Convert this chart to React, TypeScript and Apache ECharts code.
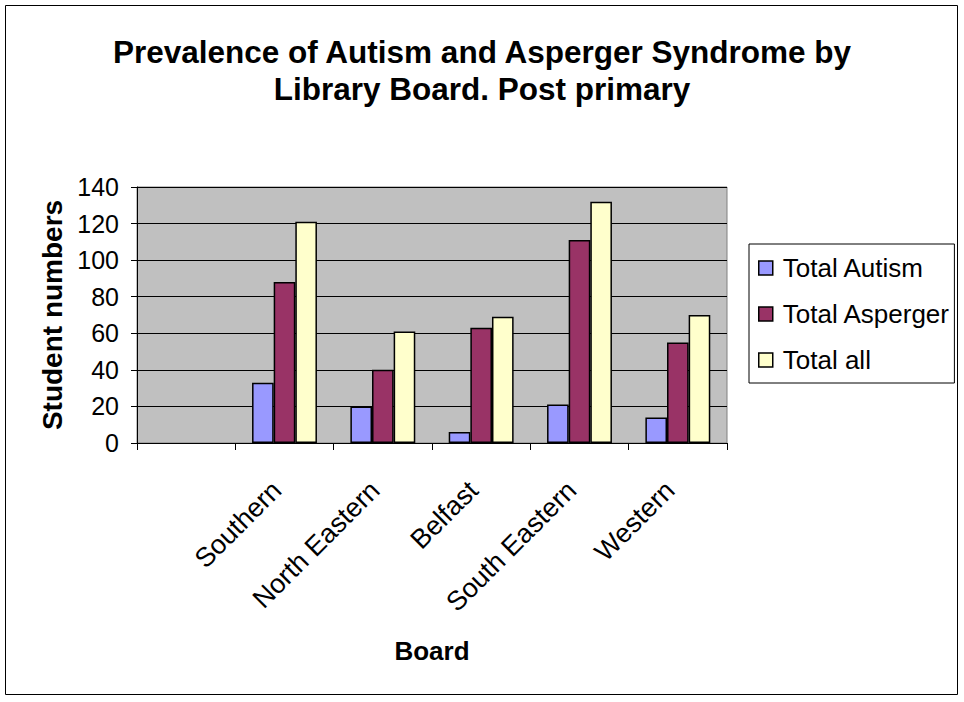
import React, { useEffect, useRef } from "react";
import * as echarts from "echarts";

const categories = ["", "Southern", "North Eastern", "Belfast", "South Eastern", "Western"];
const totalAutism = [null, 33, 20, 6, 21, 14];
const totalAsperger = [null, 88, 40, 63, 111, 55];
const totalAll = [null, 121, 61, 69, 132, 70];
const seriesNames = ["Total Autism", "Total Asperger", "Total all"];
const colors = ["#9999FF", "#993366", "#FFFFCC"];

const FONT = "'Liberation Sans', Arial, sans-serif";

export default function App() {
  const ref = useRef<HTMLDivElement>(null);
  useEffect(() => {
    document.body.style.margin = "0";
    const chart = echarts.init(ref.current!, null, { renderer: "svg" });
    const data = [totalAutism, totalAsperger, totalAll];
    chart.setOption({
      animation: false,
      backgroundColor: "#ffffff",
      textStyle: { fontFamily: FONT, color: "#000" },
      title: {
        text: "Prevalence of Autism and Asperger Syndrome by\nLibrary Board. Post primary",
        left: "center",
        top: 28,
        textStyle: { fontFamily: FONT, fontSize: 31.5, fontWeight: "bold", color: "#000", lineHeight: 37 },
      },
      graphic: [
        {
          type: "rect",
          shape: { x: 5.5, y: 5.5, width: 952, height: 689 },
          style: { fill: "none", stroke: "#000", lineWidth: 1 },
          silent: true,
        },
        {
          type: "rect",
          shape: { x: 137, y: 187, width: 590, height: 256 },
          style: { fill: "#C0C0C0", stroke: "#808080", lineWidth: 1 },
          silent: true,
          z: -10,
        },
      ],
      legend: {
        orient: "vertical",
        left: 749,
        top: 244,
        backgroundColor: "#fff",
        borderColor: "#000",
        borderWidth: 1,
        padding: [11, 4, 10, 9],
        itemWidth: 14,
        itemHeight: 14,
        itemGap: 20,
        icon: "rect",
        itemStyle: { borderColor: "#000", borderWidth: 1.5 },
        textStyle: { fontFamily: FONT, fontSize: 26, color: "#000", lineHeight: 26, padding: [0, 0, 0, 5] },
        data: seriesNames,
      },
      grid: { left: 137, top: 187, width: 590, height: 256, containLabel: false },
      xAxis: {
        type: "category",
        data: categories,
        boundaryGap: true,
        name: "Board",
        nameLocation: "middle",
        nameGap: 195,
        nameTextStyle: { fontFamily: FONT, fontSize: 26, fontWeight: "bold", color: "#000" },
        axisLine: { lineStyle: { color: "#000", width: 1 } },
        axisTick: { show: true, length: 7, alignWithLabel: false, lineStyle: { color: "#000" } },
        axisLabel: {
          rotate: 45,
          margin: 35,
          interval: 0,
          padding: [0, 11, 0, 0],
          fontFamily: FONT,
          fontSize: 27,
          color: "#000",
        },
        splitLine: { show: false },
      },
      yAxis: {
        type: "value",
        min: 0,
        max: 140,
        interval: 20,
        name: "Student numbers",
        nameLocation: "middle",
        nameGap: 70,
        nameTextStyle: { fontFamily: FONT, fontSize: 28, fontWeight: "bold", color: "#000" },
        axisLine: { show: true, lineStyle: { color: "#000", width: 1 } },
        axisTick: { show: true, length: 6, lineStyle: { color: "#000" } },
        axisLabel: { margin: 18, fontFamily: FONT, fontSize: 25, color: "#000" },
        splitLine: { show: true, lineStyle: { color: "#000", width: 1 } },
      },
      series: seriesNames.map((name, i) => ({
        name,
        type: "bar",
        data: data[i],
        barGap: "0%",
        barCategoryGap: "34%",
        itemStyle: { color: colors[i], borderColor: "#000", borderWidth: 1.5 },
      })),
    });
    return () => chart.dispose();
  }, []);
  return <div ref={ref} style={{ position: "absolute", left: 0, top: 0, width: 964, height: 702 }} />;
}
